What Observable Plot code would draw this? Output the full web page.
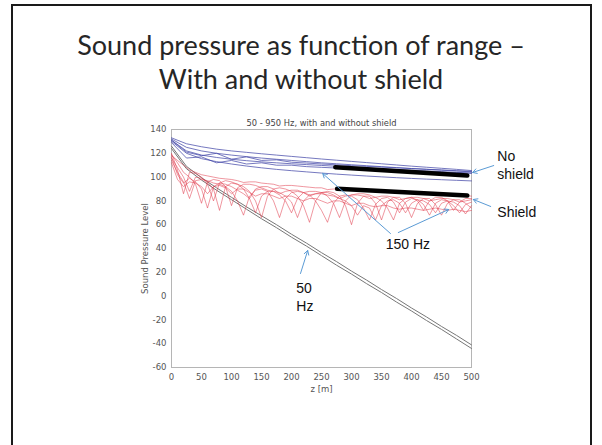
<!DOCTYPE html>
<html><head><meta charset="utf-8">
<script src="https://cdn.jsdelivr.net/npm/d3@7"></script>
<script src="https://cdn.jsdelivr.net/npm/@observablehq/plot@0.6"></script>
<style>
body{margin:0;background:#fff;}
#slide{position:relative;width:602px;height:445px;overflow:hidden;background:#fff;}
#border{position:absolute;left:11px;top:4px;width:577px;height:470px;border:2px solid #1a1a1a;pointer-events:none;}
#title{height:104px;box-sizing:border-box;padding-top:28px;text-align:center;font-family:Lato,"Open Sans",sans-serif;font-size:27px;line-height:34px;color:#262626;}
#chart svg{background:transparent;}
</style></head><body>
<div id="slide"><div id="title">Sound pressure as function of range –<br>With and without shield</div><div id="chart"></div><div id="border"></div></div>
<script>
// sample ranges (m)
const xFine = [0,10,20,30,40,50,60,70,80,90,100,110,120,130,140,150,160,170,180,190,200,210,220,230,240,250,260,270,280,290,300,310,320,330,340,350,360,370,380,390,400,410,420,430,440,450,460,470,480,490,500];
const xCoarse = [0,25,50,75,100,125,150,175,200,225,250,275,300,325,350,375,400,425,450,475,500];

// With shield (red)
const red1 = [118,114,110,106,104,102,101,100,99,98.5,98,97,95.5,96,96,95,94.5,94,92.5,93,93,92.5,92,91.5,91,91,89.5,90,90,89.5,89.5,89,88.5,88.5,87.5,88,87.5,87.5,87.5,87,86.5,86.5,85.5,86,85.5,85.5,85.5,85,84.5,84.5,84];
const red2 = [116,108,100,88,100,99,96,90,72,92,95,94,92,88,80,66,84,90,91,90,88,84,76,62,80,87,88,87,84,76,60,78,84,84,78,64,79,83,83,78,66,78,82,82,77,68,78,81,81,78,74];
const red3 = [114,104,96,82,97,98,97,95,94,92,88,80,68,84,89,90,88,80,66,82,87,88,87,85,80,72,62,78,84,85,84,81,74,64,77,82,83,79,70,79,82,81,77,68,78,81,80,76,70,77,79];
const red4 = [112,98,92,96,95,92,86,92,93,91,86,90,90,87,84,86,86,84,82,84,84,82,80,82,82,80,78,80,80,78,76,78,78,76,75,76,76,74,73,74,74,73,72,73,74,73,72,73,72,71,72];
const red5 = [119,112,104,100,94,78,96,98,97,92,76,91,94,94,93,91,89,88,85,80,70,82,87,88,88,87,84,78,66,80,85,86,86,85,83,80,74,64,78,82,83,80,72,80,83,83,80,72,79,82,82];
const red6 = [120,106,86,104,103,100,94,80,95,97,96,94,90,82,90,92,92,90,86,88,89,89,87,84,86,87,87,85,82,84,85,85,84,82,83,84,84,83,81,82,83,83,82,80,81,82,82,81,79,80,81];
const red7 = [117,102,95,99,96,90,74,92,95,94,92,89,86,82,70,84,88,88,87,84,79,66,80,85,86,86,85,84,82,80,76,68,76,74,64,76,80,81,78,70,78,81,80,77,70,78,80,79,76,69,76];

// Without shield (blue)
const blue1 = [133,128,125.5,123.5,122,120.8,119.6,118.5,117.4,116.3,115.2,114.2,113.2,112.2,111.2,110.2,109.2,108.3,107.4,106.5,105.5];
const blue2 = [132,125,122,120,118.5,117.2,116,115,114,113,112,111.2,110.4,109.6,108.8,108,107.2,106.5,105.8,105.1,104.4];
const blue3 = [131,122,118.5,116.5,115,113.8,112.8,112,111.2,110.5,109.8,109.1,108.4,107.7,107,106.4,105.8,105.2,104.6,104,103.4];
const blue4 = [130,120,115.5,113,111,109.3,107.8,106.5,105.4,104.4,103.4,102.5,101.7,100.9,100.2,99.5,98.9,98.3,97.8,97.3,96.8];
const blue5 = [129,116,117,112,114,111,112,110,110,108.8,108.2,107.6,107,106.4,105.9,105.4,104.9,104.4,104,103.6,103.2];
const blue6 = [131,121,118,120,115,117,114,114.5,112.5,111.8,111,110.3,109.6,109,108.4,107.8,107.2,106.6,106,105.4,104.8];

// 50 Hz (grey)
const grey1 = [126,109,99.5,91,83,75,67.5,60,52,44.5,36.5,29,21,13.5,5.5,-2,-10,-17.5,-25.5,-33,-41];
const grey2 = [124,107,97.5,89,81,73,65,57.5,49.5,42,34,26,18.5,10.5,3,-5,-12.5,-20.5,-28,-36,-44];

// black overlay bars
const barX = [[273,493],[276,493]];
const barY = [[108.3,101.3],[90.2,84.5]];

// ticks
const xTicks = [0,50,100,150,200,250,300,350,400,450,500];
const yTicks = [-60,-40,-20,0,20,40,60,80,100,120,140];

// annotations
const labelText = ["No\nshield","Shield","150 Hz","50\nHz"];
const labelX = [543,543,357,208];
const labelY = [110.6,71.1,44.2,0];
const arrowFrom = [[537,109.7],[532,75.3],[365,52.6],[378,53.4],[215,19]];
const arrowTo = [[502,103.9],[503,81.2],[252,103],[462,72.8],[227,38.3]];

const chartTitle = "50 - 950 Hz, with and without shield";

function toRows(series, xs, prefix) {
  const out = [];
  series.forEach((ys, i) => ys.forEach((y, j) => out.push({x: xs[j], y, s: prefix + i})));
  return out;
}
const redRows = toRows([red1,red2,red3,red4,red5,red6,red7], xFine, "r");
const blueRows = toRows([blue1,blue2,blue3,blue4,blue5,blue6], xCoarse, "b");
const greyRows = toRows([grey1,grey2], xCoarse, "g");
const barRows = [];
barX.forEach((xs, i) => xs.forEach((x, j) => barRows.push({x, y: barY[i][j], s: i})));
const labels = labelText.map((t, i) => ({t, x: labelX[i], y: labelY[i]}));
const arrows = arrowFrom.map((f, i) => ({x1: f[0], y1: f[1], x2: arrowTo[i][0], y2: arrowTo[i][1]}));

const plot = Plot.plot({
  width: 602, height: 341,
  marginLeft: 171, marginRight: 131, marginTop: 25, marginBottom: 78,
  style: {fontFamily: "DejaVu Sans", fontSize: "8.5px", color: "#555", background: "transparent"},
  x: {domain: [0, 500]},
  y: {domain: [-60, 140]},
  marks: [
    Plot.frame({stroke: "#b5b5b5"}),
    Plot.axisX({ticks: xTicks, tickSize: 0, tickPadding: 6, tickFormat: d => String(d), label: "z [m]", labelAnchor: "center", labelArrow: "none", labelOffset: 24}),
    Plot.axisY({ticks: yTicks, tickSize: 0, tickPadding: 5, tickFormat: d => String(d), label: "Sound Pressure Level", labelAnchor: "center", labelArrow: "none", labelOffset: 30}),
    Plot.line(greyRows, {x: "x", y: "y", z: "s", stroke: "#777", strokeWidth: 1}),
    Plot.line(blueRows, {x: "x", y: "y", z: "s", stroke: "#3f43a6", strokeOpacity: 0.8, strokeWidth: 0.9}),
    Plot.line(redRows, {x: "x", y: "y", z: "s", stroke: "#e03848", strokeOpacity: 0.62, strokeWidth: 0.85}),
    Plot.line(barRows, {x: "x", y: "y", z: "s", stroke: "#000", strokeWidth: 4.5}),
    Plot.text([chartTitle], {frameAnchor: "top", dy: -9, fontSize: 8.3, fill: "#444"}),
    Plot.arrow(arrows, {x1: "x1", y1: "y1", x2: "x2", y2: "y2", stroke: "#5b9bd5", strokeWidth: 1, headLength: 7}),
    Plot.text(labels, {x: "x", y: "y", text: "t", textAnchor: "start", lineAnchor: "middle", lineHeight: 1.3, fontSize: 14, fontFamily: "Liberation Sans", fill: "#111"})
  ]
});
document.getElementById("chart").appendChild(plot);
</script>
</body></html>
